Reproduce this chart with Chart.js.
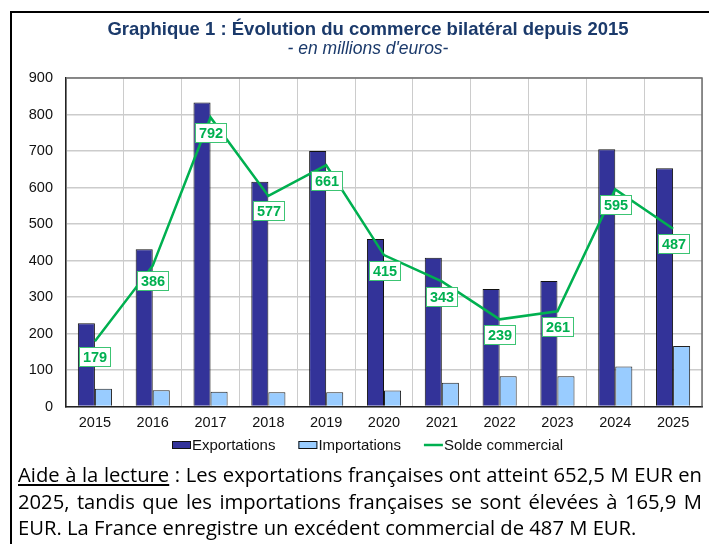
<!DOCTYPE html>
<html lang="fr">
<head>
<meta charset="utf-8">
<script src="https://cdn.jsdelivr.net/npm/chart.js@4.4.1/dist/chart.umd.min.js"></script>
<style>
  html, body { margin: 0; padding: 0; background: #fff; overflow: hidden; width: 709px; height: 544px; }
  #frame {
    position: absolute; left: 10px; top: 11px; width: 720px; height: 560px;
    border-left: 2px solid #000; border-top: 2px solid #000;
  }
  #wrap { position: absolute; left: 0; top: 0; width: 724px; height: 462px; }
  #note {
    position: absolute; left: 18px; top: 461px; width: 684px;
    font-family: "Open Sans", sans-serif; font-size: 17px; line-height: 26.5px;
    color: #000;
  }
  #note .l { text-align: justify; text-align-last: justify; white-space: nowrap; }
  #note .last { text-align: left; white-space: nowrap; }
  #note u { text-underline-offset: 2px; }
</style>
</head>
<body>
<div id="frame"></div>
<div id="wrap"><canvas id="tradeChart"></canvas></div>
<div id="note">
  <div class="l"><u>Aide à la lecture</u> : Les exportations françaises ont atteint 652,5 M EUR en</div>
  <div class="l">2025, tandis que les importations françaises se sont élevées à 165,9 M</div>
  <div class="last">EUR. La France enregistre un excédent commercial de 487 M EUR.</div>
</div>
<script>
  // Data (millions d'euros)
  const years = ['2015', '2016', '2017', '2018', '2019', '2020', '2021', '2022', '2023', '2024', '2025'];
  const exportations = [228, 431, 833, 616, 700, 459, 408, 322, 344, 705, 652.5];
  const importations = [49, 45, 41, 39, 39, 44, 65, 83, 83, 110, 165.9];
  const soldeCommercial = [179, 386, 792, 577, 661, 415, 343, 239, 261, 595, 487];
  const yMin = 0;
  const yMax = 900;
  const yStep = 100;

  const COLORS = {
    exports: '#333399',
    imports: '#99ccff',
    solde: '#00b050',
    labelBorder: '#3cc473',
    title: '#1b3a6b',
    grid: '#cccccc',
    frame: '#6e6e6e',
    text: '#111111'
  };

  const FONT = 'Arial, "Liberation Sans", sans-serif';

  // Boxed value labels under each point of the balance line
  const soldeLabels = {
    id: 'soldeLabels',
    afterDatasetsDraw(chart) {
      const meta = chart.getDatasetMeta(2);
      const ctx = chart.ctx;
      ctx.save();
      ctx.font = 'bold 14.5px ' + FONT;
      ctx.textAlign = 'center';
      ctx.textBaseline = 'middle';
      meta.data.forEach((pt, i) => {
        const txt = String(soldeCommercial[i]);
        const w = Math.round(ctx.measureText(txt).width + 7);
        const h = 19;
        const x0 = Math.round(pt.x - w / 2);
        const y0 = Math.round(pt.y + 15 - h / 2);
        ctx.fillStyle = '#fff';
        ctx.fillRect(x0, y0, w, h);
        ctx.strokeStyle = COLORS.labelBorder;
        ctx.lineWidth = 1;
        ctx.strokeRect(x0 + 0.5, y0 + 0.5, w, h);
        ctx.fillStyle = COLORS.solde;
        ctx.fillText(txt, x0 + w / 2 + 0.5, y0 + h / 2 + 1);
      });
      ctx.restore();
    }
  };

  // Plot-area frame (top and right edges)
  const plotFrame = {
    id: 'plotFrame',
    afterDraw(chart) {
      const a = chart.chartArea;
      const ctx = chart.ctx;
      ctx.save();
      ctx.strokeStyle = COLORS.frame;
      ctx.lineWidth = 1.5;
      ctx.beginPath();
      ctx.moveTo(a.left, a.top);
      ctx.lineTo(a.right, a.top);
      ctx.lineTo(a.right, a.bottom);
      ctx.stroke();
      ctx.restore();
    }
  };

  // Legend drawn under the axis: marker glued to its text, like the original
  const bottomLegend = {
    id: 'bottomLegend',
    afterDraw(chart) {
      const ctx = chart.ctx;
      const y = 445;
      const markW = 19;
      const gap = 23;
      ctx.save();
      ctx.font = '15px ' + FONT;
      ctx.textBaseline = 'middle';
      ctx.textAlign = 'left';
      const items = chart.data.datasets.map(ds => ({ ds, tw: ctx.measureText(ds.label).width }));
      const total = items.reduce((s, it) => s + markW + 1 + it.tw, 0) + gap * (items.length - 1);
      const center = (12 + chart.width) / 2;
      let x = Math.round(center - total / 2);
      items.forEach(it => {
        if (it.ds.type === 'line') {
          ctx.strokeStyle = it.ds.borderColor;
          ctx.lineWidth = 2.5;
          ctx.beginPath();
          ctx.moveTo(x, y);
          ctx.lineTo(x + markW, y);
          ctx.stroke();
        } else {
          ctx.fillStyle = it.ds.backgroundColor;
          ctx.fillRect(x, y - 4, markW, 8);
          ctx.strokeStyle = '#111';
          ctx.lineWidth = 1;
          ctx.strokeRect(x + 0.5, y - 3.5, markW - 1, 7);
        }
        ctx.fillStyle = COLORS.text;
        ctx.fillText(it.ds.label, x + markW + 1, y + 1);
        x += markW + 1 + it.tw + gap;
      });
      ctx.restore();
    }
  };

  const ctx = document.getElementById('tradeChart').getContext('2d');
  new Chart(ctx, {
    data: {
      labels: years,
      datasets: [
        {
          type: 'bar',
          label: 'Exportations',
          data: exportations,
          backgroundColor: COLORS.exports,
          borderColor: '#111',
          borderWidth: 1,
          barPercentage: 1,
          categoryPercentage: 0.59,
          order: 2
        },
        {
          type: 'bar',
          label: 'Importations',
          data: importations,
          backgroundColor: COLORS.imports,
          borderColor: '#222',
          borderWidth: 1,
          barPercentage: 1,
          categoryPercentage: 0.59,
          order: 2
        },
        {
          type: 'line',
          label: 'Solde commercial',
          data: soldeCommercial,
          borderColor: COLORS.solde,
          backgroundColor: COLORS.solde,
          borderWidth: 2.5,
          pointRadius: 0,
          tension: 0,
          order: 1
        }
      ]
    },
    options: {
      responsive: true,
      maintainAspectRatio: false,
      animation: false,
      layout: { padding: { left: 12, right: 0, top: 0, bottom: 22 } },
      plugins: {
        title: {
          display: true,
          text: 'Graphique 1 : Évolution du commerce bilatéral depuis 2015',
          color: COLORS.title,
          font: { family: FONT, size: 18.5, weight: 'bold', lineHeight: 1 },
          padding: { top: 21, bottom: 1 }
        },
        subtitle: {
          display: true,
          text: "- en millions d'euros-",
          color: COLORS.title,
          font: { family: FONT, size: 17.5, style: 'italic', lineHeight: 1 },
          padding: { top: 0, bottom: 20 }
        },
        legend: { display: false },
        tooltip: { enabled: false }
      },
      scales: {
        x: {
          grid: { color: COLORS.grid, drawTicks: false, offset: true },
          border: { display: true, color: '#222', width: 1.5 },
          ticks: { color: COLORS.text, font: { family: FONT, size: 14.5 }, padding: 8 }
        },
        y: {
          min: yMin,
          max: yMax,
          afterFit(scale) { scale.width = 54; },
          grid: { color: COLORS.grid, lineWidth: 1.5, drawTicks: false },
          border: { display: true, color: '#222', width: 1.5 },
          ticks: {
            stepSize: yStep,
            color: COLORS.text,
            font: { family: FONT, size: 14.5 },
            padding: 13
          }
        },
        // empty spacer on the right so titles centre where the original does
        spacer: {
          position: 'right',
          grid: { display: false },
          border: { display: false },
          ticks: { display: false },
          afterFit(scale) { scale.width = 22; }
        }
      }
    },
    plugins: [soldeLabels, plotFrame, bottomLegend]
  });

  // size the reading note so its first line fills the box width
  (function fitNote() {
    const note = document.getElementById('note');
    const probe = document.createElement('span');
    probe.style.cssText = 'position:absolute;visibility:hidden;white-space:nowrap;font-family:"Open Sans",sans-serif;font-size:20px';
    probe.textContent = note.querySelector('.l').textContent;
    document.body.appendChild(probe);
    const w = probe.getBoundingClientRect().width;
    probe.remove();
    note.style.fontSize = (20 * 680 / w).toFixed(2) + 'px';
  })();
</script>
</body>
</html>
